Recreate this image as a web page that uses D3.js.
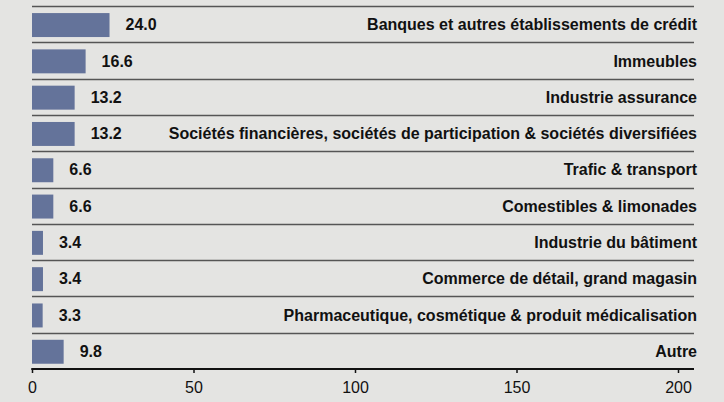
<!DOCTYPE html>
<html>
<head>
<meta charset="utf-8">
<script src="https://cdn.jsdelivr.net/npm/d3@7"></script>
<style>
  body { margin: 0; background: #e4e4e2; }
  svg { display: block; font-family: "Liberation Sans", Arial, sans-serif; }
</style>
</head>
<body>
<div id="chart"></div>
<script>
const categories = [
  'Banques et autres établissements de crédit',
  'Immeubles',
  'Industrie assurance',
  'Sociétés financières, sociétés de participation & sociétés diversifiées',
  'Trafic & transport',
  'Comestibles & limonades',
  'Industrie du bâtiment',
  'Commerce de détail, grand magasin',
  'Pharmaceutique, cosmétique & produit médicalisation',
  'Autre'
]
const values = [24.0, 16.6, 13.2, 13.2, 6.6, 6.6, 3.4, 3.4, 3.3, 9.8]
const ticks = [0, 50, 100, 150, 200]

const width = 724
const height = 402
const marginLeft = 32
const lineRight = 694
const plotTop = 6
const plotBottom = 369

const svg = d3.select('#chart')
  .append('svg')
  .attr('width', width)
  .attr('height', height)

svg.append('rect')
  .attr('width', width)
  .attr('height', height)
  .attr('fill', '#e4e4e2')

const x = d3.scaleLinear().domain([0, 200]).range([marginLeft, 678])
const y = d3.scaleBand().domain(categories).range([plotTop, plotBottom])
const bw = y.bandwidth()

// row separators
svg.append('g')
  .selectAll('line')
  .data(categories)
  .join('line')
  .attr('x1', marginLeft)
  .attr('x2', lineRight)
  .attr('y1', (d) => Math.round(y(d)) + 0.5)
  .attr('y2', (d) => Math.round(y(d)) + 0.5)
  .attr('stroke', '#555')
  .attr('stroke-width', 1.3)

const rows = svg.append('g')
  .selectAll('g')
  .data(categories.map((c, i) => ({ c, v: values[i] })))
  .join('g')

rows.append('rect')
  .attr('x', x(0))
  .attr('y', (d) => y(d.c) + bw * 0.195)
  .attr('width', (d) => x(d.v) - x(0))
  .attr('height', bw * 0.66)
  .attr('fill', '#64739a')

rows.append('text')
  .attr('x', (d) => x(d.v) + 16)
  .attr('y', (d) => y(d.c) + bw / 2 + 0.5)
  .attr('dy', '0.35em')
  .attr('font-size', 16)
  .attr('font-weight', 'bold')
  .attr('fill', '#111')
  .text((d) => d.v.toFixed(1))

rows.append('text')
  .attr('x', 697)
  .attr('y', (d) => y(d.c) + bw / 2 + 0.5)
  .attr('dy', '0.35em')
  .attr('text-anchor', 'end')
  .attr('font-size', 16)
  .attr('font-weight', 'bold')
  .attr('fill', '#111')
  .text((d) => d.c)

// x axis
const axis = svg.append('g')
  .attr('transform', `translate(0,${plotBottom})`)
  .call(d3.axisBottom(x).tickValues(ticks).tickSize(4).tickPadding(9).tickSizeOuter(0))

axis.select('.domain').remove()
axis.selectAll('.tick line').attr('stroke', '#111').attr('stroke-width', 1.5)
axis.selectAll('.tick text')
  .attr('font-size', 16)
  .attr('font-family', '"Liberation Sans", Arial, sans-serif')
  .attr('fill', '#111')

axis.append('line')
  .attr('x1', marginLeft - 0.75)
  .attr('x2', lineRight)
  .attr('y1', 0)
  .attr('y2', 0)
  .attr('stroke', '#111')
  .attr('stroke-width', 2)
</script>
</body>
</html>
